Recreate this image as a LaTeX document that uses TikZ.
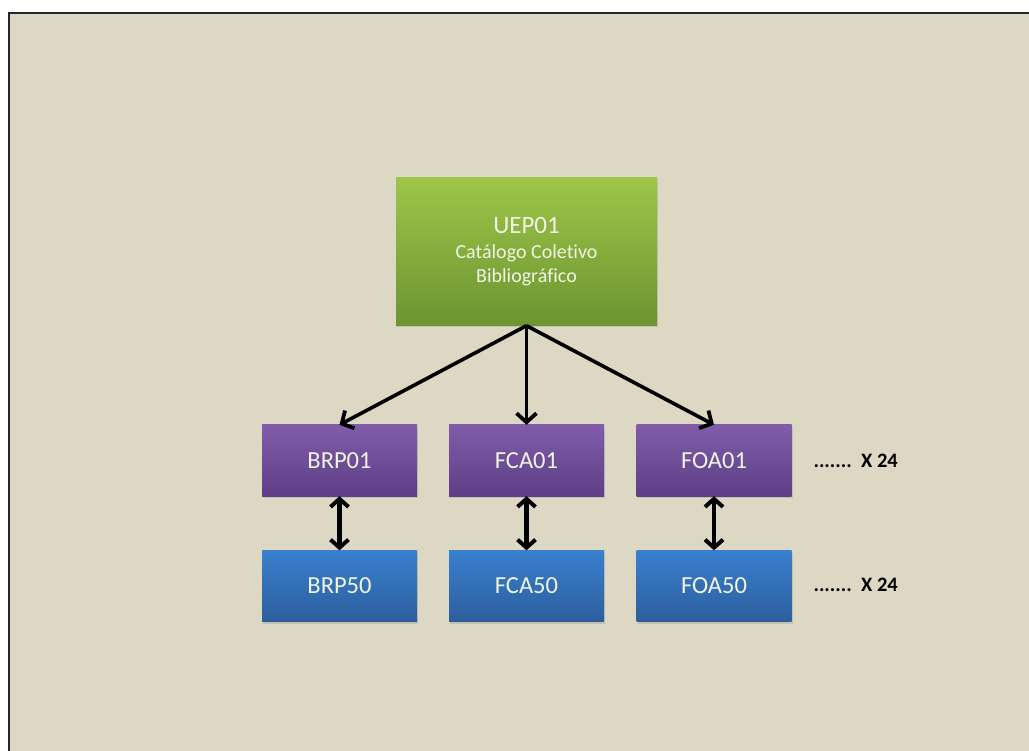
\documentclass[tikz,border=0pt]{standalone}
\usepackage{fontspec}
\setmainfont{Carlito}[Ligatures=NoCommon]
\usetikzlibrary{arrows.meta,shadows}
\definecolor{paper}{RGB}{221,216,195}
\definecolor{greenTop}{RGB}{157,198,74}
\definecolor{greenBot}{RGB}{108,148,48}
\definecolor{purpTop}{RGB}{128,92,170}
\definecolor{purpBot}{RGB}{94,62,134}
\definecolor{blueTop}{RGB}{58,128,206}
\definecolor{blueBot}{RGB}{44,94,158}
\definecolor{boxtext}{RGB}{240,244,228}
\tikzset{
  card/.style={draw=none, minimum width=155pt, minimum height=71pt, inner sep=0pt,
    text=boxtext, font=\fontsize{24.5}{28}\selectfont, align=center,
    drop shadow={shadow xshift=1pt, shadow yshift=-2pt, opacity=0.25}},
  unitbox/.style={card, top color=purpTop, bottom color=purpBot},
  copybox/.style={card, top color=blueTop, bottom color=blueBot},
  rootbox/.style={card, minimum width=261pt, minimum height=148pt,
    font=\fontsize{20}{24}\selectfont, top color=greenTop, bottom color=greenBot},
  fanout/.style={line width=3.6pt, -{Straight Barb[length=9pt,width=20pt,line width'=3.8pt]}},
  pairlink/.style={line width=4.4pt, {Straight Barb[length=8pt,width=18pt,line width'=4pt]}-{Straight Barb[length=8pt,width=18pt,line width'=4pt]}},
  more/.style={font=\bfseries\fontsize{20.5}{24}\selectfont, text=black, anchor=west}
}
\begin{document}
\begin{tikzpicture}[x=1pt,y=-1pt]
  \useasboundingbox (0,0) rectangle (1029,751);
  \fill[white] (0,0) rectangle (1029,751);
  \fill[paper] (9,13) rectangle (1029,751);
  \draw[line width=2pt, black!85] (1029,13) -- (9,13) -- (9,751);

  % catalogue server
  \node[rootbox] (uep) at (526.5,251.5) {{\fontsize{25}{24}\selectfont UEP01}\\[1pt]
    Catálogo Coletivo\\ Bibliográfico};

  % unit libraries
  \node[unitbox] (brp01) at (339.5,460.5) {BRP01};
  \node[unitbox] (fca01) at (526.5,460.5) {FCA01};
  \node[unitbox] (foa01) at (714,460.5) {FOA01};

  \node[copybox] (brp50) at (339.5,586) {BRP50};
  \node[copybox] (fca50) at (526.5,586) {FCA50};
  \node[copybox] (foa50) at (714,586) {FOA50};

  \node[more] (n1) at (810,461) {.......~~X 24};
  \node[more] (n2) at (810,585) {.......~~X 24};

  % connectors
  \draw[fanout] (uep.south) -- (brp01.north);
  \draw[fanout] (uep.south) -- (fca01.north);
  \draw[fanout] (uep.south) -- (foa01.north);

  \draw[pairlink] (brp01.south) -- (brp50.north);
  \draw[pairlink] (fca01.south) -- (fca50.north);
  \draw[pairlink] (foa01.south) -- (foa50.north);
\end{tikzpicture}
\end{document}
